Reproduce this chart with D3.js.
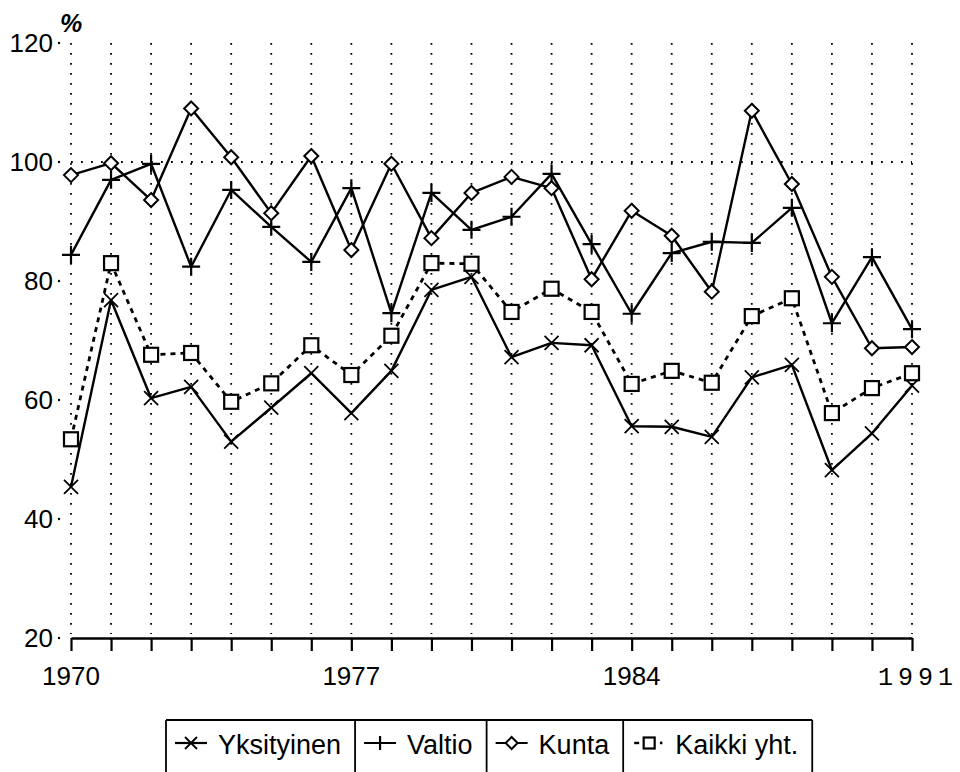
<!DOCTYPE html>
<html>
<head>
<meta charset="utf-8">
<script src="https://cdn.jsdelivr.net/npm/d3@7"></script>
<style>
  body { margin: 0; background: #fff; }
  svg text { font-family: "Liberation Sans", Arial, sans-serif; fill: #000; }
</style>
</head>
<body>
<svg id="chart" width="960" height="772"></svg>
<script>
// data
var years = d3.range(1970, 1992);
var yksityinen = [45.4, 76.8, 60.3, 62.2, 53.0, 58.7, 64.5, 57.8, 64.9, 78.5, 80.7,
  67.2, 69.6, 69.2, 55.6, 55.5, 53.8, 63.8, 65.9, 48.2, 54.4, 62.4];
var valtio = [84.4, 97.0, 99.7, 82.4, 95.3, 89.1, 83.2, 95.6, 74.6, 94.8, 88.6,
  90.8, 98.0, 86.2, 74.5, 84.7, 86.6, 86.4, 92.3, 72.9, 84.0, 71.9];
var kunta = [97.8, 99.8, 93.6, 109.0, 100.8, 91.4, 101.0, 85.2, 99.7, 87.2, 94.8,
  97.5, 95.6, 80.3, 91.8, 87.6, 78.2, 108.6, 96.3, 80.7, 68.7, 68.9];
var kaikki = [53.4, 83.0, 67.6, 67.9, 59.7, 62.8, 69.2, 64.2, 70.8, 83.0, 82.9,
  74.8, 78.7, 74.8, 62.7, 64.9, 62.9, 74.1, 77.1, 57.8, 62.0, 64.5];
var yTicks = [20, 40, 60, 80, 100, 120];
var xLabels = [1970, 1977, 1984];

var series = [
  { name: 'Yksityinen', values: yksityinen, marker: 'x', dash: null },
  { name: 'Valtio', values: valtio, marker: 'plus', dash: null },
  { name: 'Kunta', values: kunta, marker: 'diamond', dash: null },
  { name: 'Kaikki yht.', values: kaikki, marker: 'square', dash: '5,5' }
];

var svg = d3.select('#chart');

var x = d3.scaleLinear().domain([1970, 1991]).range([71, 912]);
var y = d3.scaleLinear().domain([20, 120]).range([638, 43]);

// dotted vertical grid at every year
svg.append('g').selectAll('line')
  .data(years)
  .enter().append('line')
  .attr('x1', function (d) { return x(d); })
  .attr('x2', function (d) { return x(d); })
  .attr('y1', y(120))
  .attr('y2', y(20) - 4)
  .attr('stroke', '#000')
  .attr('stroke-width', 1.8)
  .attr('stroke-dasharray', '1.8,8.2');

// dotted reference line at 100
svg.append('line')
  .attr('x1', x(1970)).attr('x2', x(1991))
  .attr('y1', y(100)).attr('y2', y(100))
  .attr('stroke', '#000')
  .attr('stroke-width', 1.8)
  .attr('stroke-dasharray', '1.8,8.2');

// y labels with the little dot tick
var yAxis = svg.append('g');
yAxis.selectAll('text')
  .data(yTicks)
  .enter().append('text')
  .attr('x', 53)
  .attr('y', function (d) { return y(d) + 9; })
  .attr('text-anchor', 'end')
  .attr('font-size', 26)
  .text(function (d) { return d; });
yAxis.selectAll('circle')
  .data(yTicks)
  .enter().append('circle')
  .attr('cx', 59)
  .attr('cy', function (d) { return y(d); })
  .attr('r', 1.2)
  .attr('fill', '#000');

// percent sign
svg.append('text')
  .attr('x', 71).attr('y', 32)
  .attr('text-anchor', 'middle')
  .attr('font-size', 25)
  .attr('font-weight', 'bold')
  .attr('font-style', 'italic')
  .text('%');

// x axis with ticks going down
var xAxis = d3.axisBottom(x)
  .tickValues(years)
  .tickSize(13)
  .tickSizeOuter(0)
  .tickFormat('');
var gx = svg.append('g')
  .attr('transform', 'translate(0,' + y(20) + ')')
  .call(xAxis);
gx.select('.domain').attr('stroke-width', 2.4);
gx.selectAll('.tick line').attr('stroke-width', 2.2);

svg.append('g').selectAll('text')
  .data(xLabels)
  .enter().append('text')
  .attr('x', function (d) { return x(d); })
  .attr('y', 685)
  .attr('text-anchor', 'middle')
  .attr('font-size', 26)
  .text(function (d) { return d; });

svg.append('text')
  .attr('x', x(1991) + 6)
  .attr('y', 685)
  .attr('text-anchor', 'middle')
  .attr('font-size', 25)
  .attr('letter-spacing', 5)
  .style('font-family', '"Liberation Mono", monospace')
  .text('1991');

// markers
function drawMarker(sel, type, s) {
  if (type === 'x') {
    sel.append('path')
      .attr('d', 'M' + (-s) + ',' + (-s) + 'L' + s + ',' + s + 'M' + (-s) + ',' + s + 'L' + s + ',' + (-s))
      .attr('stroke', '#000').attr('stroke-width', 1.8).attr('fill', 'none');
  } else if (type === 'plus') {
    sel.append('path')
      .attr('d', 'M' + (-s - 1) + ',0L' + (s + 1) + ',0M0,' + (-s - 1) + 'L0,' + (s + 1))
      .attr('stroke', '#000').attr('stroke-width', 2.2).attr('fill', 'none');
  } else if (type === 'diamond') {
    sel.append('path')
      .attr('d', 'M0,' + (-s) + 'L' + s + ',0L0,' + s + 'L' + (-s) + ',0Z')
      .attr('stroke', '#000').attr('stroke-width', 2).attr('fill', '#fff');
  } else if (type === 'square') {
    sel.append('rect')
      .attr('x', -s).attr('y', -s).attr('width', 2 * s).attr('height', 2 * s)
      .attr('stroke', '#000').attr('stroke-width', 2.2).attr('fill', '#fff');
  }
}

var line = d3.line()
  .x(function (d, i) { return x(years[i]); })
  .y(function (d) { return y(d); });

series.forEach(function (s) {
  var g = svg.append('g');
  g.append('path')
    .datum(s.values)
    .attr('d', line)
    .attr('fill', 'none')
    .attr('stroke', '#000')
    .attr('stroke-width', s.dash ? 2.8 : 2.4)
    .attr('stroke-linejoin', 'round')
    .attr('stroke-dasharray', s.dash);
  g.selectAll('.pt')
    .data(s.values)
    .enter().append('g')
    .attr('class', 'pt')
    .attr('transform', function (d, i) { return 'translate(' + x(years[i]) + ',' + y(d) + ')'; })
    .each(function () { drawMarker(d3.select(this), s.marker, s.marker === 'plus' ? 8 : 7); });
});

// legend boxed cells along the bottom
var legend = svg.append('g');
var lx = 166, boxTop = 720, boxBottom = 772;
series.forEach(function (s, i) {
  var cell = legend.append('g');
  var symX = lx + 9, symY = 743;
  if (s.marker === 'square') {
    cell.append('line')
      .attr('x1', symX + 2).attr('x2', symX + 7)
      .attr('y1', symY).attr('y2', symY)
      .attr('stroke', '#000').attr('stroke-width', 2.4);
    var m = cell.append('g').attr('transform', 'translate(' + (symX + 17) + ',' + symY + ')');
    drawMarker(m, 'square', 5.5);
    cell.append('circle')
      .attr('cx', symX + 29).attr('cy', symY).attr('r', 1.4).attr('fill', '#000');
  } else {
    cell.append('line')
      .attr('x1', symX).attr('x2', symX + 32)
      .attr('y1', symY).attr('y2', symY)
      .attr('stroke', '#000').attr('stroke-width', 2.2);
    var mk = cell.append('g').attr('transform', 'translate(' + (symX + 16) + ',' + symY + ')');
    drawMarker(mk, s.marker, 6);
  }
  var t = cell.append('text')
    .attr('x', lx + 52)
    .attr('y', 754)
    .attr('font-size', 27)
    .text(s.name);
  var w = t.node().getComputedTextLength();
  var right = lx + 52 + w + 14;
  if (i === 0) {
    legend.append('line')
      .attr('x1', lx).attr('x2', lx).attr('y1', boxTop).attr('y2', boxBottom)
      .attr('stroke', '#000').attr('stroke-width', 1.8);
  }
  legend.append('line')
    .attr('x1', right).attr('x2', right).attr('y1', boxTop).attr('y2', boxBottom)
    .attr('stroke', '#000').attr('stroke-width', 1.8);
  lx = right;
});
legend.append('line')
  .attr('x1', 166).attr('x2', lx).attr('y1', boxTop).attr('y2', boxTop)
  .attr('stroke', '#000').attr('stroke-width', 1.8);
</script>
</body>
</html>
